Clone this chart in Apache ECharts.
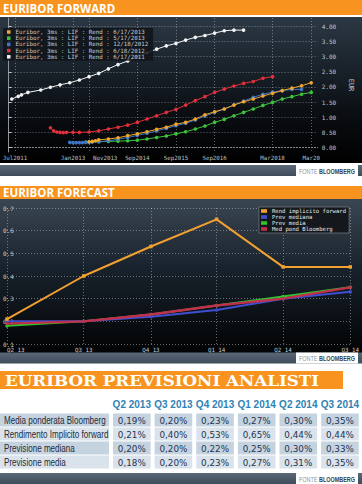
<!DOCTYPE html>
<html><head><meta charset="utf-8">
<script src="https://cdn.jsdelivr.net/npm/echarts@6/dist/echarts.min.js"></script>
<style>html,body{margin:0;padding:0;background:#fff}#c{width:362px;height:484px}</style>
</head><body><div id="c"></div>
<script>
// ---------- Chart 1: EURIBOR FORWARD curves [month, value] ----------
const fwd20130617 = [['2013-06',0.19],['2013-07',0.20],['2013-08',0.22],['2013-09',0.25],['2013-12',0.28],['2014-03',0.32],['2014-06',0.39],['2014-09',0.45],['2014-12',0.52],['2015-03',0.60],['2015-06',0.67],['2015-09',0.77],['2015-12',0.83],['2016-03',0.94],['2016-06',1.08],['2016-09',1.18],['2016-12',1.27],['2017-03',1.40],['2017-06',1.51],['2017-09',1.60],['2017-12',1.70],['2018-03',1.79],['2018-06',1.88],['2018-09',1.96],['2018-12',2.04],['2019-03',2.14]];
const fwd20130517 = [['2013-05',0.18],['2013-06',0.18],['2013-07',0.19],['2013-09',0.19],['2013-12',0.20],['2014-03',0.21],['2014-06',0.22],['2014-09',0.24],['2014-12',0.28],['2015-03',0.33],['2015-06',0.38],['2015-09',0.45],['2015-12',0.52],['2016-03',0.61],['2016-06',0.71],['2016-09',0.83],['2016-12',0.93],['2017-03',1.05],['2017-06',1.16],['2017-09',1.27],['2017-12',1.39],['2018-03',1.49],['2018-06',1.60],['2018-09',1.68],['2018-12',1.76],['2019-03',1.82]];
const fwd20121218 = [['2012-12',0.17],['2013-01',0.16],['2013-02',0.16],['2013-03',0.16],['2013-04',0.16],['2013-05',0.17],['2013-06',0.17],['2013-07',0.18],['2013-09',0.19],['2013-12',0.22],['2014-03',0.27],['2014-06',0.33],['2014-09',0.40],['2014-12',0.47],['2015-03',0.55],['2015-06',0.63],['2015-09',0.72],['2015-12',0.80],['2016-03',0.91],['2016-06',1.04],['2016-09',1.16],['2016-12',1.27],['2017-03',1.41],['2017-06',1.53],['2017-09',1.66],['2017-12',1.76],['2018-03',1.83],['2018-06',1.88],['2018-09',1.92],['2018-12',1.92]];
const fwd20120618 = [['2012-06',0.65],['2012-07',0.55],['2012-08',0.51],['2012-09',0.50],['2012-10',0.49],['2012-11',0.50],['2013-01',0.50],['2013-03',0.50],['2013-06',0.51],['2013-09',0.55],['2013-12',0.61],['2014-03',0.67],['2014-06',0.74],['2014-09',0.83],['2014-12',0.94],['2015-03',1.05],['2015-06',1.16],['2015-09',1.26],['2015-12',1.40],['2016-03',1.55],['2016-06',1.68],['2016-09',1.82],['2016-12',1.93],['2017-03',2.03],['2017-06',2.12],['2017-09',2.18],['2017-12',2.29],['2018-03',2.34]];
const fwd20110617 = [['2011-06',1.60],['2011-08',1.69],['2011-09',1.74],['2011-11',1.82],['2012-03',1.90],['2012-06',1.99],['2012-09',2.07],['2012-12',2.14],['2013-03',2.23],['2013-06',2.34],['2013-09',2.45],['2013-12',2.60],['2014-03',2.74],['2014-06',2.86],['2014-09',3.00],['2014-12',3.13],['2015-03',3.25],['2015-06',3.36],['2015-09',3.44],['2015-12',3.55],['2016-03',3.64],['2016-06',3.70],['2016-09',3.78],['2016-12',3.86],['2017-03',3.88],['2017-06',3.88]];
const fwdNames = ['Euribor, 3ms : LIF : Rend : 6/17/2013','Euribor, 3ms : LIF : Rend : 5/17/2013','Euribor, 3ms : LIF : Rend : 12/18/2012','Euribor, 3ms : LIF : Rend : 6/18/2012','Euribor, 3ms : LIF : Rend : 6/17/2011'];
const fwdXLabels = [['2011-07','Jul2011'],['2013-01','Jan2013'],['2013-11','Nov2013'],['2014-09','Sep2014'],['2015-09','Sep2015'],['2016-09','Sep2016'],['2018-03','Mar2018'],['2019-03','Mar20']];
const fwdXGrid = ['2011-07','2013-01','2013-06','2014-09','2015-09','2016-09','2018-03','2019-03'];
const fwdYTicks = [0,0.5,1,1.5,2,2.5,3,3.5,4];

// ---------- Chart 2 / table: EURIBOR FORECAST ----------
const quarterTicks = ['Q2 13','Q3 13','Q4 13','Q1 14','Q2 14','Q3 14'];
const quarterDates = ['2013-06-17','2013-09-30','2013-12-31','2014-03-31','2014-06-30','2014-09-30'];
const quarterHeaders = ['Q2 2013','Q3 2013','Q4 2013','Q1 2014','Q2 2014','Q3 2014'];
const medPondBloomberg = [0.19,0.20,0.23,0.27,0.30,0.35];
const rendImplicito = [0.21,0.40,0.53,0.65,0.44,0.44];
const prevMediana = [0.20,0.20,0.22,0.25,0.30,0.33];
const prevMedia = [0.18,0.20,0.23,0.27,0.31,0.35];
const rowNames = ['Media ponderata Bloomberg','Rendimento Implicito forward','Previsione mediana','Previsione media'];

const mono = "'DejaVu Sans Mono', monospace";
const sans = "'Liberation Sans',Arial,sans-serif";
function mIdx(s){const p=s.split('-').map(Number);return (p[0]-2011)*12+(p[1]-5);}
function dIdx(s){return Math.round((Date.parse(s)-Date.parse(quarterDates[0]))/86400000);}
const xLabelMap = {}; fwdXLabels.forEach(d=>{xLabelMap[mIdx(d[0])]=d[1];});
const qX = quarterDates.map(dIdx);
const qLabelMap = {}; qX.forEach((v,i)=>{qLabelMap[v]=quarterTicks[i];});
const tableRows = [medPondBloomberg, rendImplicito, prevMediana, prevMedia];
const cells = []; tableRows.forEach((r,ri)=>r.forEach((v,ci)=>cells.push([ci,ri])));

const fwdSeriesData = [fwd20130617,fwd20130517,fwd20121218,fwd20120618,fwd20110617];
const fwdColors = ['#f0a62c','#3cc43c','#3f76c8','#e0303c','#f2f2f2'];
const fcNames = ['Rend implicito forward','Prev mediana','Prev media','Med pond Bloomberg'];
const fcData = [rendImplicito, prevMediana, prevMedia, medPondBloomberg];
const fcColors = ['#f2a030','#3f4fd0','#2ec42e','#c0304c'];
const rowFill = ['#c5d3e0','#dae3ec'];

const grid1 = 'rgba(215,220,228,0.55)';
const chart = echarts.init(document.getElementById('c'), null, {renderer:'svg', width:362, height:484});

const fwdSeries = fwdSeriesData.map((arr,i)=>({
  type:'line', name:fwdNames[i], xAxisIndex:0, yAxisIndex:0,
  data: arr.map(d=>[mIdx(d[0]), d[1]]),
  symbol:'circle', symbolSize:3.6, showSymbol:true,
  lineStyle:{color:fwdColors[i], width:1}, itemStyle:{color:fwdColors[i]},
  z: [6,4,5,3,2][i], animation:false
}));
const fcOrder = [2,1,3,0];
const fcSeries = fcOrder.map(i=>({
  type:'line', name:fcNames[i], xAxisIndex:1, yAxisIndex:1,
  data: fcData[i].map((v,k)=>[qX[k], v]),
  symbol: i===0?'rect':'circle', symbolSize:3.5, showSymbol:true,
  lineStyle:{color:fcColors[i], width:i===3?2.4:2}, itemStyle:{color:fcColors[i]},
  animation:false
}));
const tableSeries = {
  type:'custom', xAxisIndex:2, yAxisIndex:2, data:cells, animation:false,
  renderItem:(params, api)=>{
    const c = api.coord([api.value(0), api.value(1)]);
    const s = api.size([1,1]);
    const w = s[0]-4, h = s[1]-1;
    const ri = api.value(1), ci = api.value(0);
    const txt = tableRows[ri][ci].toFixed(2).replace('.',',')+'%';
    const kids = [
      {type:'rect', shape:{x:c[0]-w/2, y:c[1]-h/2, width:w, height:h}, style:{fill: rowFill[ri%2]}},
      {type:'text', style:{text:txt, x:c[0], y:c[1]+0.5, align:'center', verticalAlign:'middle', fill:'#1e3553', fontSize:8.8, fontFamily:"'DejaVu Sans',sans-serif"}}
    ];
    if (ci === 0) {
      const gx = params.coordSys.x;
      kids.push({type:'rect', shape:{x:0, y:c[1]-h/2, width:gx-2, height:h}, style:{fill: rowFill[ri%2]}});
      kids.push({type:'text', x:4, y:c[1]+0.5, scaleX:0.8, style:{text:rowNames[ri], align:'left', verticalAlign:'middle', fill:'#1e2b3a', fontSize:10.1, fontFamily:sans}});
    }
    return {type:'group', children:kids};
  }
};

function bgGrad(stops){return new echarts.graphic.LinearGradient(0,0,0,1,stops);}
function fonte(y){return [
  {type:'rect', shape:{x:0,y:y,width:362,height:11}, style:{fill:bgGrad([{offset:0,color:'#5a6878'},{offset:1,color:'#3f4c5a'}])}, z:-5},
  {type:'rect', shape:{x:296,y:y,width:62,height:11}, style:{fill:'#ffffff'}, z:-4},
  {type:'text', x:327, y:y+6, scaleX:0.78, style:{text:'{a|FONTE }{b|BLOOMBERG}', align:'center', verticalAlign:'middle', rich:{a:{fill:'#8c949c', fontSize:7, fontFamily:sans}, b:{fill:'#34414f', fontSize:7, fontWeight:'bold', fontFamily:sans}}}, z:-3}
];}

const option = {
  animation:false,
  graphic:{elements:[
    {type:'rect', shape:{x:0,y:0,width:362,height:15}, style:{fill:'#f7931e'}, z:-5},
    {type:'text', x:3, y:8, style:{text:'EURIBOR FORWARD', fill:'#fff', fontSize:11.5, fontWeight:'bold', fontFamily:"'Open Sans',sans-serif", verticalAlign:'middle'}, z:-3},
    {type:'rect', shape:{x:0,y:17,width:362,height:146}, style:{fill:bgGrad([{offset:0,color:'#2c3844'},{offset:0.35,color:'#19222b'},{offset:0.7,color:'#090c10'},{offset:1,color:'#000'}])}, z:-6},
    ...fonte(165),
    {type:'rect', shape:{x:0,y:186,width:362,height:13}, style:{fill:'#f7931e'}, z:-5},
    {type:'text', x:3, y:192.5, style:{text:'EURIBOR FORECAST', fill:'#fff', fontSize:11.5, fontWeight:'bold', fontFamily:"'Open Sans',sans-serif", verticalAlign:'middle'}, z:-3},
    {type:'rect', shape:{x:0,y:199,width:362,height:154}, style:{fill:bgGrad([{offset:0,color:'#3a4652'},{offset:0.45,color:'#18222c'},{offset:1,color:'#020304'}])}, z:-6},
    ...fonte(352.5),
    {type:'rect', shape:{x:0,y:371,width:343,height:18}, style:{fill:'#f7931e'}, z:-5},
    {type:'text', x:5, y:380.5, scaleX:1.1, style:{text:'EURIBOR PREVISIONI ANALISTI', fill:'#fff', fontSize:15.2, fontWeight:'bold', fontFamily:"'DejaVu Serif',serif", verticalAlign:'middle'}, z:-3},
    ...fonte(473)
  ]},
  legend:[
    {data: fwdNames.map((n,i)=>({name:n, icon:'rect', itemStyle:{color:fwdColors[i]}})),
     orient:'vertical', left:3, top:28, itemWidth:3.5, itemHeight:3.5, itemGap:0.2, padding:[1,5,1,4],
     backgroundColor:'rgba(16,20,26,0.88)', selectedMode:false,
     textStyle:{color:'#c8ccd2', fontSize:5.8, lineHeight:6, fontFamily:mono}},
    {data: fcNames.map((n,i)=>({name:n, icon:'rect', itemStyle:{color:fcColors[i]}})),
     orient:'vertical', left:259, top:207, itemWidth:6, itemHeight:3.6, itemGap:0, padding:[1,3,1,2],
     backgroundColor:'#14181d', borderColor:'#8a9098', borderWidth:0.6, selectedMode:false,
     textStyle:{color:'#e8e8e8', fontSize:5.6, lineHeight:4.5, fontFamily:mono}}
  ],
  grid:[
    {left:0, right:34, top:18, height:134},
    {left:5, right:10, top:208, height:136},
    {left:111, right:0, top:413, height:56}
  ],
  xAxis:[
    {gridIndex:0, type:'value', min:0, max:96,
     axisLine:{show:true, lineStyle:{color:'#8e959c', type:[1,2], width:1}},
     axisTick:{show:false, customValues: fwdXGrid.map(mIdx)},
     axisLabel:{customValues: fwdXLabels.map(d=>mIdx(d[0])), formatter:v=>xLabelMap[Math.round(v)]||'', color:'#b8c0c8', fontSize:5.8, fontFamily:mono, margin:3},
     splitLine:{show:true, lineStyle:{color:grid1, type:[1,2], width:0.8}}},
    {gridIndex:1, type:'value', min:0, max:qX[qX.length-1],
     axisLine:{show:false}, axisTick:{show:false, customValues:qX},
     axisLabel:{customValues:qX, formatter:v=>qLabelMap[Math.round(v)]||'', alignMinLabel:'left', color:'#c8ced4', fontSize:5.8, fontFamily:mono, margin:3},
     splitLine:{show:true, lineStyle:{color:grid1, type:[1,2], width:0.8}}},
    {gridIndex:2, type:'category', data:quarterHeaders, position:'top',
     axisLine:{show:false}, axisTick:{show:false}, splitLine:{show:false},
     axisLabel:{interval:0, color:'#2f82b6', fontWeight:'bold', fontSize:10, fontFamily:sans, margin:4}}
  ],
  yAxis:[
    {gridIndex:0, type:'value', position:'right', min:-0.15, max:4.28,
     axisLine:{show:true, lineStyle:{color:'#8e959c'}},
     axisTick:{show:true, length:3, customValues:fwdYTicks, lineStyle:{color:'#c0c4c8'}},
     axisLabel:{customValues:fwdYTicks, formatter:v=>v.toFixed(2), color:'#c0c8d0', fontSize:6, fontFamily:mono, margin:4},
     splitLine:{show:true, lineStyle:{color:grid1, type:[1,2], width:0.8}},
     name:'EUR', nameLocation:'middle', nameGap:27, nameRotate:-90,
     nameTextStyle:{color:'#c0c8d0', fontSize:7, fontFamily:mono}},
    {gridIndex:1, type:'value', min:0.1, max:0.7, interval:0.1,
     axisLine:{show:false}, axisTick:{show:false},
     axisLabel:{inside:true, margin:-4, formatter:v=>v.toFixed(1), color:'#c8ced4', fontSize:6, fontFamily:mono, showMaxLabel:true, showMinLabel:true},
     splitLine:{show:true, lineStyle:{color:grid1, type:[1,2], width:0.8}}},
    {gridIndex:2, type:'category', data:rowNames, inverse:true,
     axisLine:{show:false}, axisTick:{show:false}, splitLine:{show:false}, axisLabel:{show:false}}
  ],
  series:[...fwdSeries, ...fcSeries, tableSeries]
};
chart.setOption(option);
</script></body></html>
